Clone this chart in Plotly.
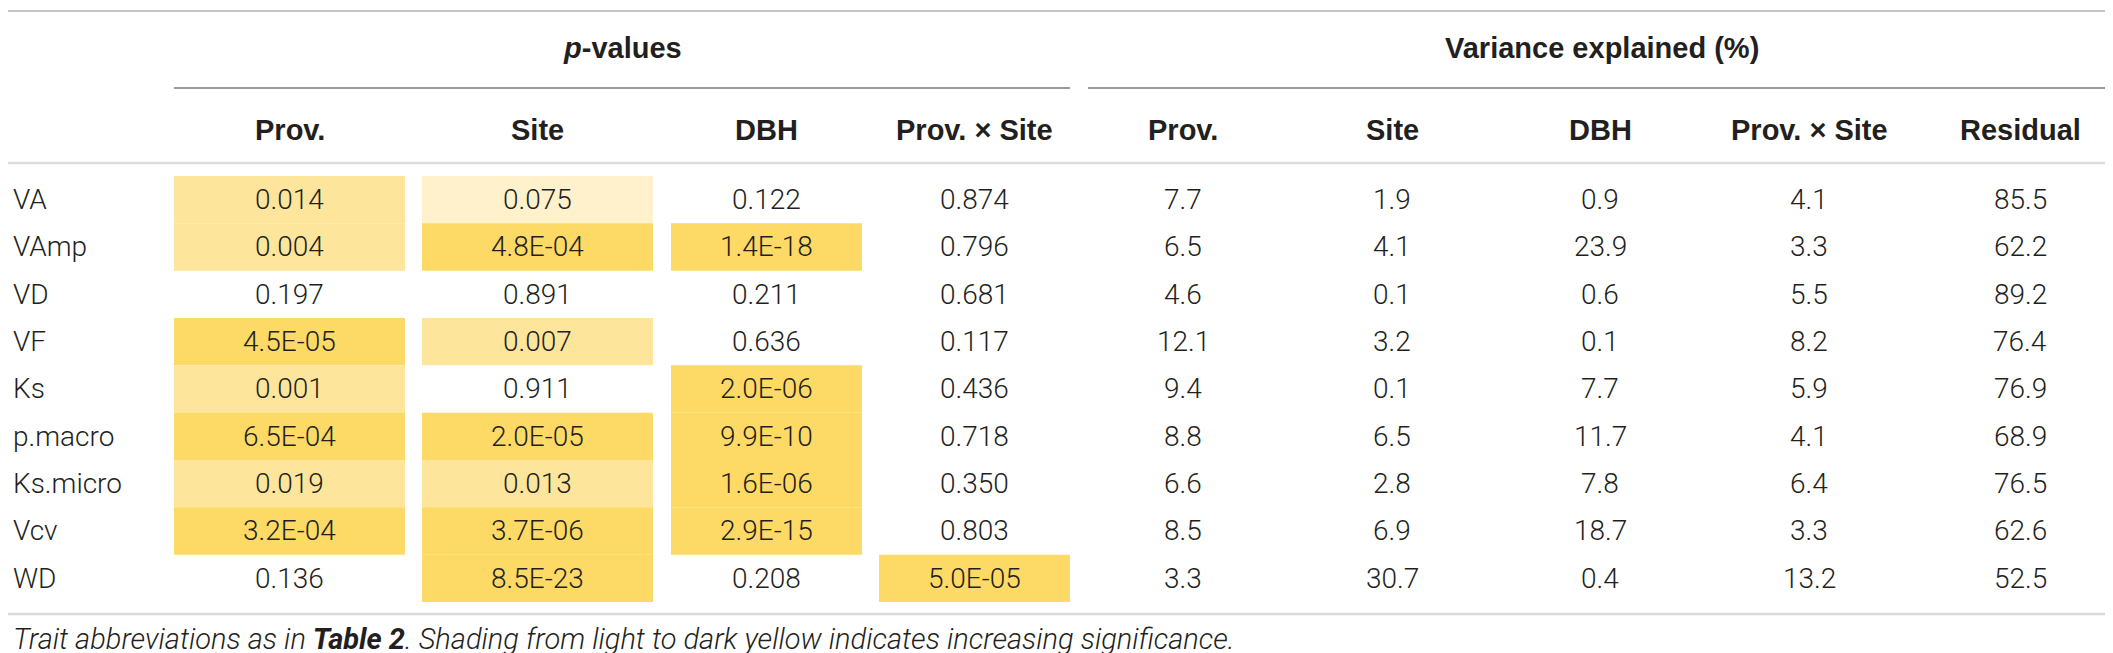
import plotly.graph_objects as go

# ---------------- data ----------------
traits = ["VA", "VAmp", "VD", "VF", "Ks", "p.macro", "Ks.micro", "Vcv", "WD"]

p_headers = ["Prov.", "Site", "DBH", "Prov. × Site"]
p_prov = ["0.014", "0.004", "0.197", "4.5E-05", "0.001", "6.5E-04", "0.019", "3.2E-04", "0.136"]
p_site = ["0.075", "4.8E-04", "0.891", "0.007", "0.911", "2.0E-05", "0.013", "3.7E-06", "8.5E-23"]
p_dbh = ["0.122", "1.4E-18", "0.211", "0.636", "2.0E-06", "9.9E-10", "1.6E-06", "2.9E-15", "0.208"]
p_pxs = ["0.874", "0.796", "0.681", "0.117", "0.436", "0.718", "0.350", "0.803", "5.0E-05"]

v_headers = ["Prov.", "Site", "DBH", "Prov. × Site", "Residual"]
v_prov = [7.7, 6.5, 4.6, 12.1, 9.4, 8.8, 6.6, 8.5, 3.3]
v_site = [1.9, 4.1, 0.1, 3.2, 0.1, 6.5, 2.8, 6.9, 30.7]
v_dbh = [0.9, 23.9, 0.6, 0.1, 7.7, 11.7, 7.8, 18.7, 0.4]
v_pxs = [4.1, 3.3, 5.5, 8.2, 5.9, 4.1, 6.4, 3.3, 13.2]
v_res = [85.5, 62.2, 89.2, 76.4, 76.9, 68.9, 76.5, 62.6, 52.5]

group_titles = ["<i>p</i>-values", "Variance explained (%)"]
footnote = ("<i>Trait abbreviations as in <b>Table 2</b>. Shading from light to dark "
            "yellow indicates increasing significance.</i>")

# ---------------- layout / style ----------------
W, H = 2113, 653
BODY_FONT = dict(family="Roboto", size=28, color="#231f20", weight=300)
HEAD_FONT = dict(family="Liberation Sans", size=29, color="#231f20", weight=700)
FOOT_FONT = dict(family="Roboto", size=29, color="#231f20", weight=300)

p_cells = [(166, 397), (414, 645), (663, 854), (871, 1062)]
v_centers = [1175, 1384, 1592, 1801, 2012]
row_top0, row_h = 168, 47.33
y_group, y_head = 40, 122

DARK, MED, LIGHT = "#fdd966", "#fde59b", "#fef1cc"


def shade(s):
    v = float(s)
    if v < 0.001:
        return DARK
    if v < 0.05:
        return MED
    if v < 0.1:
        return LIGHT
    return None


fig = go.Figure()
shapes, annotations = [], []


def text(x, y, s, font, xanchor="center"):
    annotations.append(dict(x=x, y=y, xref="x", yref="y", text=s, showarrow=False,
                            font=font, xanchor=xanchor, yanchor="middle"))


def hline(x0, x1, y, color, width):
    shapes.append(dict(type="line", xref="x", yref="y", x0=x0, x1=x1, y0=y, y1=y,
                       line=dict(color=color, width=width)))


# rules
hline(0, 2110, 3, "#b3b3b3", 1.5)
hline(p_cells[0][0], p_cells[-1][1], 80, "#9a9a9a", 2)
hline(1080, 2108, 80, "#9a9a9a", 2)
hline(0, 2110, 155, "#dcdcdc", 2.5)
hline(0, 2110, 606, "#d9d9d9", 2.5)

# group titles
text((p_cells[0][0] + p_cells[-1][1]) / 2, y_group, "<b>" + group_titles[0] + "</b>", HEAD_FONT)
text((1080 + 2108) / 2, y_group, "<b>" + group_titles[1] + "</b>", HEAD_FONT)

# column headers
for (x0, x1), h in zip(p_cells, p_headers):
    text((x0 + x1) / 2, y_head, "<b>" + h + "</b>", HEAD_FONT)
for xc, h in zip(v_centers, v_headers):
    text(xc, y_head, "<b>" + h + "</b>", HEAD_FONT)

# body
p_cols = [p_prov, p_site, p_dbh, p_pxs]
v_cols = [v_prov, v_site, v_dbh, v_pxs, v_res]
for i, t in enumerate(traits):
    top = row_top0 + i * row_h
    yc = top + row_h / 2
    text(3, yc, t, BODY_FONT, xanchor="left")
    for (x0, x1), col in zip(p_cells, p_cols):
        c = shade(col[i])
        if c:
            shapes.append(dict(type="rect", xref="x", yref="y", x0=x0, x1=x1,
                               y0=top, y1=top + row_h, fillcolor=c,
                               line=dict(width=0), layer="below"))
        text((x0 + x1) / 2, yc, col[i], BODY_FONT)
    for xc, col in zip(v_centers, v_cols):
        text(xc, yc, f"{col[i]:.1f}", BODY_FONT)

# footnote
text(3, 631, footnote, FOOT_FONT, xanchor="left")

fig.update_layout(
    width=W, height=H, margin=dict(l=0, r=0, t=0, b=0),
    paper_bgcolor="white", plot_bgcolor="white",
    xaxis=dict(range=[0, W], visible=False, fixedrange=True),
    yaxis=dict(range=[H, 0], visible=False, fixedrange=True),
    shapes=shapes, annotations=annotations, showlegend=False,
)

fig.write_html("out.html")
